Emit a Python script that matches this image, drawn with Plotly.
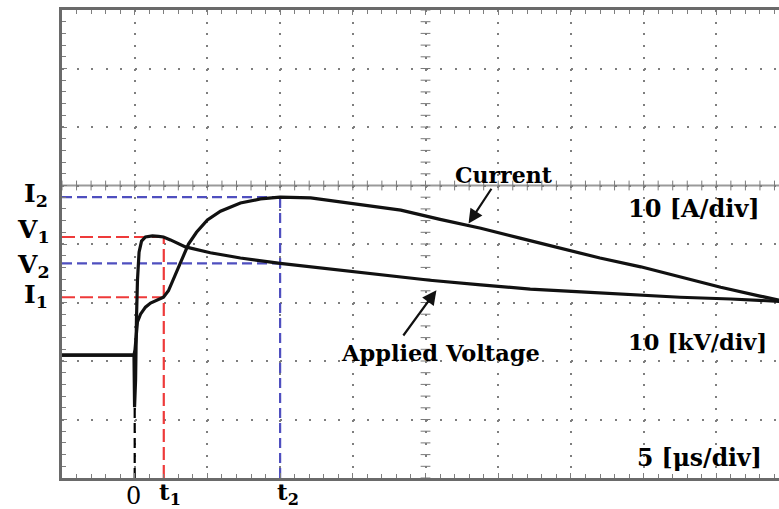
import plotly.graph_objects as go

# Time base in microseconds (5 us/div); both channels in their own units (10 per div)
t_voltage = [-5.0, -0.05, -0.01, 0.06, 0.12, 0.19, 0.30, 0.47, 0.74, 1.22, 1.64, 1.98,
             2.46, 3.49, 5.2, 7.27, 10.0, 13.4, 16.9, 20.3, 23.8, 27.2, 30.7, 34.1,
             37.5, 41.0, 44.35]
voltage_kv = [0.0, 0.0, -8.9, -4.3, 6.0, 12.8, 17.6, 19.5, 20.2, 20.4, 20.3, 20.2,
              19.7, 18.5, 17.5, 16.6, 15.7, 14.7, 13.7, 12.8, 12.0, 11.3, 10.8, 10.3,
              9.9, 9.6, 9.2]

t_current = [-5.0, -0.05, 0.02, 0.09, 0.19, 0.40, 0.74, 1.09, 1.50, 1.98, 2.32, 2.81,
             3.29, 3.70, 4.25, 5.0, 5.9, 7.27, 8.65, 10.0, 12.1, 14.8, 18.3, 21.0,
             23.8, 26.5, 29.3, 32.0, 34.8, 37.5, 40.3, 43.0, 44.35]
current_a = [0.0, 0.0, 0.9, 3.4, 5.7, 7.0, 8.2, 8.9, 9.4, 9.9, 11.0, 13.9,
             16.8, 19.0, 21.0, 23.1, 24.6, 26.0, 26.7, 27.0, 26.9, 26.0, 24.8, 23.2,
             21.7, 20.0, 18.3, 16.6, 15.1, 13.4, 11.6, 10.1, 9.4]

# Marked instants and levels
T0, T1, T2 = 0.0, 2.0, 10.0
V1, V2 = 20.2, 15.7
I1, I2 = 9.9, 27.0
V_DIP = -8.9

X_RANGE = [-5.0, 44.31]
Y_RANGE = [-21.0, 59.0]
X_CENTER, Y_CENTER = 20.0, 29.0

RED = "#ee3a3a"
BLUE = "#4f4fbf"
GRID = "#7e7e7e"
FRAME = "#6a6a6a"
FONT = "DejaVu Serif"

fig = go.Figure()

# centre cross-hair of the graticule with its minor ticks
fig.add_shape(type="line", x0=X_RANGE[0], x1=X_RANGE[1], y0=Y_CENTER, y1=Y_CENTER,
              line=dict(color="#9a9a9a", width=2), layer="below")
h_ticks = [float(v) for v in range(-5, 45)]
v_ticks = [float(v) for v in range(-21, 60, 2)]
fig.add_trace(go.Scatter(x=h_ticks, y=[Y_CENTER] * len(h_ticks), mode="markers",
                         marker=dict(symbol="line-ns", size=7,
                                     line=dict(color="#7a7a7a", width=1)),
                         hoverinfo="skip", showlegend=False))
fig.add_trace(go.Scatter(x=[X_CENTER] * len(v_ticks), y=v_ticks, mode="markers",
                         marker=dict(symbol="line-ew", size=7,
                                     line=dict(color="#7a7a7a", width=1)),
                         hoverinfo="skip", showlegend=False))

# reference levels and instants
def dashed(xs, ys, color, dash):
    fig.add_trace(go.Scatter(x=xs, y=ys, mode="lines",
                             line=dict(color=color, width=2.2, dash=dash),
                             hoverinfo="skip", showlegend=False))

dashed([X_RANGE[0], T1], [V1, V1], RED, "13px,5px")
dashed([X_RANGE[0], T1], [I1, I1], RED, "13px,5px")
dashed([T1, T1], [Y_RANGE[0], V1], RED, "13px,5px")
dashed([X_RANGE[0], T2], [I2, I2], BLUE, "10px,5px")
dashed([X_RANGE[0], T2], [V2, V2], BLUE, "10px,5px")
dashed([T2, T2], [Y_RANGE[0], I2], BLUE, "10px,5px")
dashed([T0, T0], [Y_RANGE[0], V_DIP], "black", "10px,5px")

# the two waveforms
fig.add_trace(go.Scatter(x=t_voltage, y=voltage_kv, mode="lines", name="Applied Voltage",
                         line=dict(color="#111111", width=3.2), showlegend=False))
fig.add_trace(go.Scatter(x=t_current, y=current_a, mode="lines", name="Current",
                         line=dict(color="#111111", width=3.2), showlegend=False))

annotations = []

def text(x, y, s, size, weight="bold", **kw):
    d = dict(x=x, y=y, text=s, showarrow=False,
             font=dict(family=FONT, size=size, color="black", weight=weight))
    d.update(kw)
    annotations.append(d)

# level labels on the left
text(0, I2, "I<sub>2</sub>", 25, xref="paper", yref="y", xanchor="right", xshift=-12, yshift=2)
text(0, V1, "V<sub>1</sub>", 25, xref="paper", yref="y", xanchor="right", xshift=-10, yshift=6)
text(0, V2, "V<sub>2</sub>", 25, xref="paper", yref="y", xanchor="right", xshift=-10, yshift=-3)
text(0, I1, "I<sub>1</sub>", 25, xref="paper", yref="y", xanchor="right", xshift=-12, yshift=1)

# instant labels under the time axis
text(T0, 0, "0", 24, weight="normal", xref="x", yref="paper", yanchor="middle",
     yshift=-18, xshift=-1)
text(T1, 0, "t<sub>1</sub>", 23, xref="x", yref="paper", yanchor="middle",
     yshift=-15, xshift=6)
text(T2, 0, "t<sub>2</sub>", 23, xref="x", yref="paper", yanchor="middle",
     yshift=-15, xshift=8)

# trace names with pointers
text(25.4, 30.8, "Current", 22)
text(21.0, 0.4, "Applied Voltage", 22.5)
annotations.append(dict(x=22.96, y=22.5, ax=24.6, ay=28.7, xref="x", yref="y",
                        axref="x", ayref="y", text="", showarrow=True,
                        arrowhead=2, arrowsize=1.3, arrowwidth=2.2, arrowcolor="#111"))
annotations.append(dict(x=20.75, y=11.1, ax=18.4, ay=3.1, xref="x", yref="y",
                        axref="x", ayref="y", text="", showarrow=True,
                        arrowhead=2, arrowsize=1.3, arrowwidth=2.2, arrowcolor="#111"))

# scale factors
text(38.45, 25.1, "10 [A/div]", 24)
text(38.7, 2.2, "10 [kV/div]", 22.5)
text(38.85, -17.6, "5 [μs/div]", 23.5)

fig.update_layout(
    width=779, height=509,
    margin=dict(l=62, r=0, t=10, b=31),
    paper_bgcolor="white", plot_bgcolor="white",
    annotations=annotations,
    xaxis=dict(range=X_RANGE, tick0=0, dtick=5, showgrid=True, gridcolor=GRID,
               gridwidth=2, griddash="2px,9.7px", zeroline=False,
               showline=True, linecolor=FRAME, linewidth=3, mirror="ticks",
               ticks="inside", ticklen=5, tickcolor=GRID, tickwidth=1,
               minor=dict(dtick=1, tick0=0, ticks="inside", ticklen=4,
                          tickcolor=GRID, tickwidth=1, showgrid=False),
               showticklabels=False, fixedrange=True),
    yaxis=dict(range=Y_RANGE, tick0=-1, dtick=10, showgrid=True, gridcolor=GRID,
               gridwidth=2, griddash="2px,12.54px", zeroline=False,
               showline=True, linecolor=FRAME, linewidth=3, mirror=False,
               ticks="inside", ticklen=5, tickcolor=GRID, tickwidth=1,
               minor=dict(dtick=2, tick0=-1, ticks="inside", ticklen=4,
                          tickcolor=GRID, tickwidth=1, showgrid=False),
               showticklabels=False, fixedrange=True),
)

fig.write_html("out.html")
